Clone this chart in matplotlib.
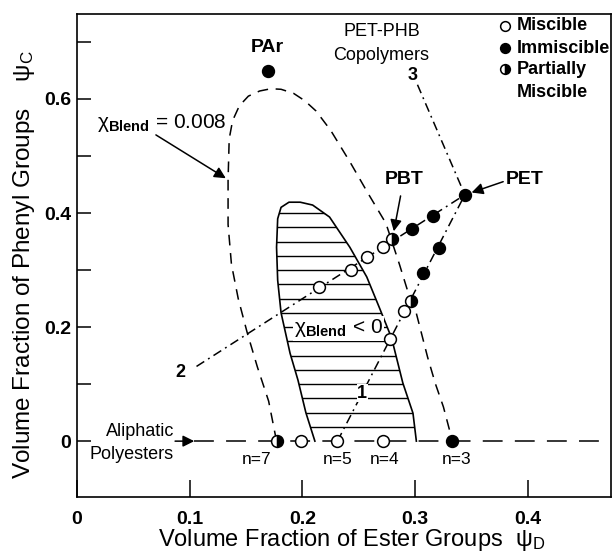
import numpy as np
import matplotlib
matplotlib.use("Agg")
from matplotlib import pyplot as plt
from matplotlib.patches import Polygon

plt.rcParams["font.family"] = ["Liberation Sans", "DejaVu Sans"]
plt.rcParams["mathtext.fontset"] = "custom"
plt.rcParams["mathtext.rm"] = "Liberation Sans"
plt.rcParams["mathtext.it"] = "Liberation Sans"
plt.rcParams["mathtext.bf"] = "Liberation Sans:bold"

# blends (psi_D, psi_C)
miscible_x = [0.199, 0.231, 0.271, 0.215, 0.243, 0.257, 0.271, 0.278, 0.290]
miscible_y = [0.0, 0.0, 0.0, 0.270, 0.300, 0.323, 0.340, 0.179, 0.228]
immiscible_x = [0.169, 0.333, 0.344, 0.316, 0.297, 0.321, 0.307]
immiscible_y = [0.649, 0.0, 0.432, 0.395, 0.372, 0.338, 0.294]
partial_x = [0.177, 0.279, 0.296]
partial_y = [0.0, 0.354, 0.246]

# chi_blend = 0.008 boundary (dashed)
chi008_x = [0.177, 0.170, 0.160, 0.151, 0.143, 0.137, 0.134, 0.134, 0.135,
            0.138, 0.144, 0.152, 0.162, 0.172, 0.181, 0.192, 0.202, 0.212,
            0.225, 0.242, 0.258, 0.274, 0.286, 0.296, 0.301, 0.311, 0.318,
            0.325, 0.333]
chi008_y = [0.0, 0.07, 0.13, 0.19, 0.25, 0.31, 0.38, 0.458, 0.53,
            0.562, 0.588, 0.605, 0.614, 0.618, 0.617, 0.610, 0.597, 0.579,
            0.545, 0.49, 0.435, 0.382, 0.31, 0.246, 0.224, 0.147, 0.10,
            0.06, 0.0]

# chi_blend < 0 region (solid, hatched)
chi0_x = [0.211, 0.203, 0.196, 0.189, 0.181, 0.178, 0.177, 0.178, 0.181,
          0.188, 0.198, 0.209, 0.224, 0.242, 0.257, 0.268, 0.279, 0.289,
          0.298, 0.301]
chi0_y = [0.0, 0.05, 0.107, 0.154, 0.225, 0.282, 0.340, 0.39, 0.41,
          0.419, 0.419, 0.414, 0.393, 0.340, 0.288, 0.235, 0.181, 0.102,
          0.049, 0.0]

# PET-PHB copolymer lines, ending at PET
line1_x = [0.231, 0.344]
line1_y = [0.0, 0.432]
line2_x = [0.106, 0.344]
line2_y = [0.131, 0.432]
line3_x = [0.302, 0.344]
line3_y = [0.625, 0.432]

n_labels = ["n=7", "n=5", "n=4", "n=3"]
n_label_x = [0.159, 0.231, 0.273, 0.337]

fig = plt.figure(figsize=(6.12, 5.52), dpi=100)
ax = fig.add_axes([0.1258, 0.0996, 0.8725, 0.875])
ax.set_xlim(0, 0.4736)
ax.set_ylim(-0.098, 0.749)

dash_dot = (0, (6, 3, 1.2, 3))
arrow_kw = dict(arrowstyle="-|>", color="k", lw=1.1, mutation_scale=17,
                shrinkA=0, shrinkB=0)

# aliphatic baseline
ax.plot([0.104, 0.4736], [0, 0], color="k", lw=1.1, ls=(0, (13, 8)), zorder=1)
ax.annotate("", xy=(0.104, 0), xytext=(0.087, 0), arrowprops=arrow_kw)
ax.text(0.086, 0.017, "Aliphatic", ha="right", va="center", fontsize=13)
ax.text(0.086, -0.024, "Polyesters", ha="right", va="center", fontsize=13)

# boundaries
ax.plot(chi008_x, chi008_y, color="k", lw=1.1, ls=(0, (7, 5)), zorder=2)
ax.plot(chi0_x, chi0_y, color="k", lw=1.2, zorder=2)
region = Polygon(np.column_stack([chi0_x, chi0_y]), closed=True,
                 fc="none", ec="none")
ax.add_patch(region)
hatch_y = np.arange(0.025, 0.42, 0.025)
hatch = ax.hlines(hatch_y, 0.15, 0.32, colors="k", lw=1.0, zorder=2)
hatch.set_clip_path(region)

# copolymer lines
for lx, ly in [(line1_x, line1_y), (line2_x, line2_y), (line3_x, line3_y)]:
    ax.plot(lx, ly, color="k", lw=1.1, ls=dash_dot, zorder=2)

# markers
mk = dict(ls="none", marker="o", ms=8.5, mec="k", mew=1.1, zorder=4)
ax.plot(miscible_x, miscible_y, mfc="white", **mk)
ax.plot(immiscible_x, immiscible_y, mfc="k", **mk)
ax.plot(partial_x, partial_y, mfc="k", mfcalt="white", fillstyle="right", **mk)

# legend
leg_y = [0.728, 0.689, 0.652]
leg_text = ["Miscible", "Immiscible", "Partially"]
lk = dict(mk, ms=7)
ax.plot(0.380, leg_y[0], mfc="white", **lk)
ax.plot(0.380, leg_y[1], mfc="k", **lk)
ax.plot(0.380, leg_y[2], mfc="k", mfcalt="white", fillstyle="right", **lk)
for yy, tt in zip(leg_y, leg_text):
    ax.text(0.390, yy, tt, ha="left", va="center", fontsize=13,
            fontweight="bold")
ax.text(0.390, 0.612, "Miscible", ha="left", va="center", fontsize=13,
        fontweight="bold")

# annotations
ax.text(0.169, 0.691, "PAr", ha="center", va="center", fontsize=14,
        fontweight="bold")
ax.text(0.27, 0.718, "PET-PHB", ha="center", va="center", fontsize=13)
ax.text(0.27, 0.677, "Copolymers", ha="center", va="center", fontsize=13)
ax.text(0.298, 0.642, "3", ha="center", va="center", fontsize=13,
        fontweight="bold")
ax.text(0.092, 0.121, "2", ha="center", va="center", fontsize=13,
        fontweight="bold")
ax.text(0.253, 0.084, "1", ha="center", va="center", fontsize=13,
        fontweight="bold", bbox=dict(fc="white", ec="none", pad=0.5), zorder=3)

ax.text(0.018, 0.558, r"$\mathrm{\chi}_{\mathbf{Blend}}$ = 0.008", ha="left",
        va="center", fontsize=15)
ax.annotate("", xy=(0.132, 0.461), xytext=(0.070, 0.537), arrowprops=arrow_kw)
ax.text(0.232, 0.198, r"$\mathrm{\chi}_{\mathbf{Blend}}$ < 0", ha="center",
        va="center", fontsize=15, zorder=3,
        bbox=dict(fc="white", ec="none", pad=1))

ax.text(0.29, 0.458, "PBT", ha="center", va="center", fontsize=14,
        fontweight="bold")
ax.annotate("", xy=(0.281, 0.368), xytext=(0.287, 0.430), arrowprops=arrow_kw)
ax.text(0.380, 0.458, "PET", ha="left", va="center", fontsize=14,
        fontweight="bold")
ax.annotate("", xy=(0.350, 0.436), xytext=(0.378, 0.455), arrowprops=arrow_kw)

for lab, lx in zip(n_labels, n_label_x):
    ax.text(lx, -0.032, lab, ha="center", va="center", fontsize=12.5)

# axes styling
ax.set_xticks([0, 0.1, 0.2, 0.3, 0.4])
ax.set_xticklabels(["0", "0.1", "0.2", "0.3", "0.4"])
ax.set_yticks([0, 0.2, 0.4, 0.6])
ax.set_yticklabels(["0", "0.2", "0.4", "0.6"])
ax.set_yticks([0.1, 0.3, 0.5, 0.7], minor=True)
ax.tick_params(axis="both", which="both", direction="in", width=1.1,
               labelsize=14)
ax.tick_params(axis="x", length=12, pad=10)
ax.tick_params(axis="y", which="both", length=10, pad=4)
for lbl in ax.get_xticklabels() + ax.get_yticklabels():
    lbl.set_fontweight("bold")
for sp in ax.spines.values():
    sp.set_linewidth(1.2)

ax.set_xlabel(r"Volume Fraction of Ester Groups  $\mathrm{\psi}_\mathrm{D}$",
              fontsize=17)
ax.set_ylabel(r"Volume Fraction of Phenyl Groups    $\mathrm{\psi}_\mathrm{C}$",
              fontsize=17.5)
ax.xaxis.set_label_coords(0.515, -0.063)
ax.yaxis.set_label_coords(-0.075, 0.482)

fig.savefig("out.png", dpi=100)
